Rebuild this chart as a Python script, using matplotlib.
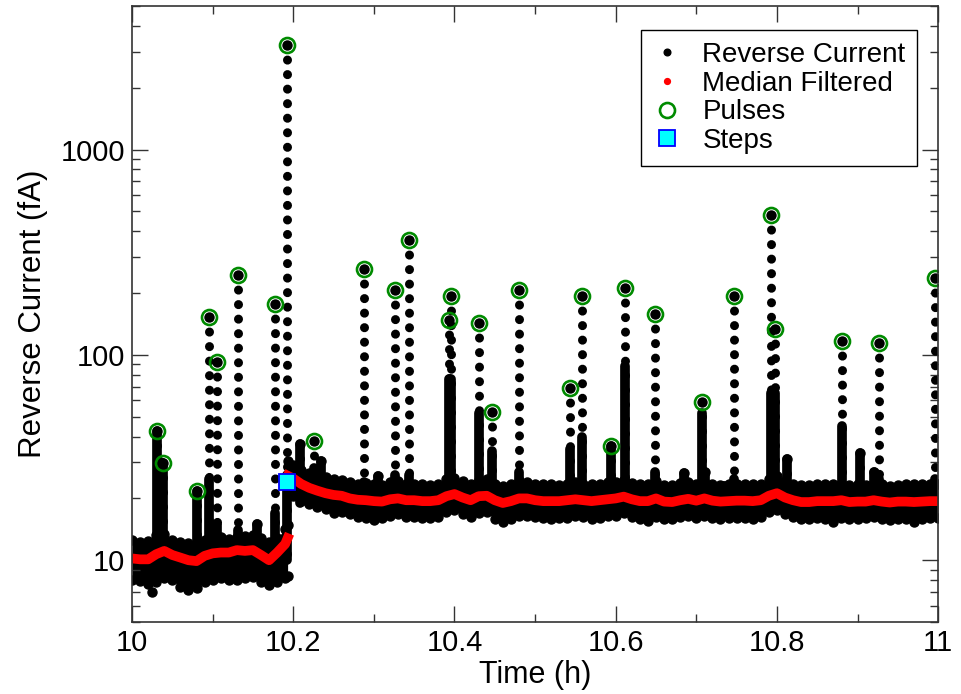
import numpy as np
import matplotlib.pyplot as plt
from matplotlib.lines import Line2D
from matplotlib.ticker import MultipleLocator, FuncFormatter, LogLocator, NullFormatter, FixedLocator

plt.rcParams['font.family'] = ['Liberation Sans', 'DejaVu Sans']

# time grid (h) before and after the step
t_pre = np.append(np.round(np.arange(10.0, 10.19 + 0.001, 0.01), 2), 10.193)
t_post = np.append(10.193, np.round(np.arange(10.20, 11.0 + 0.001, 0.01), 2))

# median filtered current (fA)
med_pre = [10.2, 10.1, 10.1, 10.7, 11.1, 10.6, 10.3, 10.0, 9.9, 10.5,
           10.8, 10.9, 10.9, 11.2, 11.1, 11.2, 10.6, 10.0, 10.9, 12.0, 12.8]
med_post = [25.8,
            25.0, 23.5, 22.5, 21.8, 21.2, 20.8, 20.6, 20.0, 19.7, 19.6,
            19.4, 19.3, 19.8, 20.0, 19.6, 19.6, 19.4, 19.4, 19.6, 20.5,
            21.0, 20.2, 19.6, 20.5, 20.6, 19.6, 19.0, 19.4, 20.0, 20.0,
            19.6, 19.4, 19.4, 19.4, 19.6, 19.8, 19.6, 19.4, 19.6, 19.8,
            20.0, 20.4, 19.8, 19.4, 19.4, 20.0, 19.3, 19.2, 19.6, 19.9,
            19.5, 20.0, 19.5, 19.3, 19.4, 19.5, 19.5, 19.4, 19.6, 20.6,
            21.2, 20.2, 19.6, 19.2, 19.2, 19.4, 19.4, 19.4, 19.6, 19.2,
            19.3, 19.3, 19.6, 19.3, 19.1, 19.3, 19.3, 19.2, 19.3, 19.4,
            19.4]

# spread of the raw reverse current around the median
hi_pre = [12.6, 12.3, 12.4, 13.2, 13.4, 12.6, 12.3, 12.1, 12.1, 12.5,
          12.8, 13.0, 12.7, 13.0, 13.1, 13.2, 12.8, 12.2, 12.8, 14.2, 14.8]
lo_pre = [8.0, 7.9, 7.7, 7.8, 8.2, 8.0, 7.4, 7.2, 7.3, 7.8,
          8.0, 8.2, 8.0, 8.0, 8.2, 8.3, 7.8, 7.6, 7.8, 8.2, 8.4]
hi_post = [30.5,
           29.0, 27.5, 26.5, 26.0, 25.3, 24.8, 24.6, 24.0, 23.6, 23.8,
           23.6, 23.2, 24.0, 24.2, 23.6, 23.6, 23.4, 23.2, 23.6, 24.8,
           25.2, 24.2, 23.6, 24.6, 24.8, 23.6, 23.0, 23.4, 24.2, 24.0,
           23.6, 23.4, 23.4, 23.2, 23.6, 24.0, 23.6, 23.4, 23.6, 24.0,
           24.0, 24.6, 23.8, 23.4, 23.4, 24.2, 23.2, 23.2, 23.8, 24.0,
           23.4, 24.2, 23.6, 23.2, 23.4, 23.6, 23.4, 23.4, 23.6, 24.8,
           25.6, 24.4, 23.6, 23.2, 23.2, 23.4, 23.4, 23.4, 23.6, 23.2,
           23.4, 23.2, 23.6, 23.4, 23.0, 23.2, 23.4, 23.6, 23.4, 23.6,
           23.6]
lo_post = [21.0,
           20.5, 19.5, 18.7, 18.1, 17.7, 16.9, 17.1, 16.7, 16.3, 16.1,
           15.7, 16.1, 16.5, 16.7, 16.3, 16.3, 16.1, 16.1, 16.3, 17.1,
           17.5, 16.7, 16.3, 16.9, 17.1, 15.9, 15.3, 15.9, 16.5, 16.5,
           16.3, 16.1, 15.9, 16.1, 16.1, 16.5, 16.3, 15.9, 16.1, 16.5,
           16.5, 16.9, 16.3, 15.9, 15.5, 16.3, 15.9, 15.9, 16.3, 16.5,
           16.1, 16.5, 16.1, 15.9, 16.1, 16.1, 16.1, 15.9, 16.3, 17.1,
           17.5, 16.7, 16.3, 15.9, 15.9, 16.1, 15.9, 15.3, 16.1, 15.9,
           15.9, 16.1, 16.3, 15.9, 15.7, 15.9, 15.9, 15.3, 15.9, 16.1,
           16.1]

# detected pulses: time, peak, top of the dense decay tail
pulse_t = [10.031, 10.038, 10.081, 10.0955, 10.105, 10.1315, 10.177, 10.192,
           10.226, 10.288, 10.326, 10.344, 10.3937, 10.3953, 10.4305, 10.4467,
           10.48, 10.543, 10.558, 10.594, 10.6117, 10.649, 10.707, 10.747,
           10.793, 10.798, 10.881, 10.927, 10.9955]
pulse_peak = [42.6, 29.7, 21.7, 152.8, 92, 245, 177, 3228,
              38, 262, 207, 362, 148, 193, 143, 52.6,
              207, 68.9, 193, 36, 211, 158, 58.9, 193,
              480, 133.6, 117, 114, 237]
pulse_tail = [42.6, 29.7, 21.7, 25, 15, 14, 17, 26,
              28, 24, 26, 26, 76, 76, 52, 34,
              27, 35, 40, 36, 88, 27, 52, 25,
              65, 65, 45, 25, 25]

# small spikes below the pulse threshold
spike_t = [10.035, 10.155, 10.2085, 10.235, 10.3056, 10.685, 10.7105,
           10.734, 10.812, 10.9025, 10.921]
spike_peak = [30, 15, 37, 30.5, 25.8, 26.6, 27, 23, 31, 33.2, 27]

stray_t = [10.0245]
stray_v = [7.0]

step_t = [10.1923]
step_v = [24.0]

fig = plt.figure(figsize=(9.61, 6.94), dpi=100)
ax = fig.add_axes([0.1374, 0.1037, 0.8388, 0.8876])

# raw data band
for t, lo, hi in [(t_pre, lo_pre, hi_pre), (t_post, lo_post, hi_post)]:
    ax.fill_between(t, lo, hi, color='k', lw=0)
    ax.plot(t, hi, 'o', ms=6.5, color='k')
    ax.plot(t, lo, 'o', ms=6.5, color='k')
ax.plot(stray_t, stray_v, 'o', ms=6.5, color='k')

# pulse decays: dense tail + sampled points up to the peak
base_of = lambda t: 10.0 if t < step_t[0] else 19.0
cols = list(zip(pulse_t, pulse_peak, pulse_tail)) + list(zip(spike_t, spike_peak, spike_peak))
for t, pk, tail in cols:
    b = base_of(t)
    ax.plot([t, t], [b, tail], color='k', lw=7, solid_capstyle='round')
    ax.plot([t, t], [pk, b], color='k', lw=6.5, dashes=(0.01, 1.6),
            dash_capstyle='round')
    ax.plot([t], [pk], 'o', ms=6.5, color='k')

ax.plot(t_pre, med_pre, color='red', lw=7)
ax.plot(t_post, med_post, color='red', lw=7)

ax.plot(pulse_t, pulse_peak, 'o', ms=10.8, mfc='none', mec='#008b00', mew=1.9)
ax.plot(step_t, step_v, 's', ms=12, mfc='cyan', mec='blue', mew=1.3)

ax.set_xlim(10, 11)
ax.set_yscale('log')
ax.set_ylim(5, 5000)

ax.xaxis.set_major_locator(MultipleLocator(0.2))
ax.xaxis.set_minor_locator(MultipleLocator(0.1))
ax.xaxis.set_major_formatter(FuncFormatter(lambda v, p: '%g' % round(v, 2)))
ax.yaxis.set_major_locator(FixedLocator([10, 100, 1000]))
ax.yaxis.set_major_formatter(FuncFormatter(lambda v, p: '%d' % v))
ax.yaxis.set_minor_locator(LogLocator(base=10, subs=np.arange(2, 10)))
ax.yaxis.set_minor_formatter(NullFormatter())

ax.tick_params(which='both', direction='in', top=True, right=True,
               color='#333333', width=1)
ax.tick_params(which='major', length=11.5, labelsize=21, pad=5)
ax.tick_params(which='minor', length=6)
for sp in ax.spines.values():
    sp.set_color('#333333')
    sp.set_linewidth(1.2)

ax.set_xlabel('Time (h)', fontsize=22, labelpad=2)
ax.set_ylabel('Reverse Current (fA)', fontsize=22.5, labelpad=9)

handles = [
    Line2D([], [], ls='none', marker='o', ms=4.8, color='k'),
    Line2D([], [], ls='none', marker='o', ms=4.2, color='red'),
    Line2D([], [], ls='none', marker='o', ms=10.8, mfc='none', mec='#008b00', mew=1.9),
    Line2D([], [], ls='none', marker='s', ms=11.5, mfc='cyan', mec='blue', mew=1.3),
]
labels = ['Reverse Current', 'Median Filtered', 'Pulses', 'Steps']
leg = ax.legend(handles, labels, loc='upper right', bbox_to_anchor=(0.974, 0.961),
                borderaxespad=0, fontsize=20, frameon=True, fancybox=False,
                edgecolor='k', framealpha=1, borderpad=0.42, handlelength=1.06,
                handletextpad=0.73, labelspacing=0.1)
leg.get_frame().set_linewidth(1.0)

fig.savefig('out.png', dpi=100)
